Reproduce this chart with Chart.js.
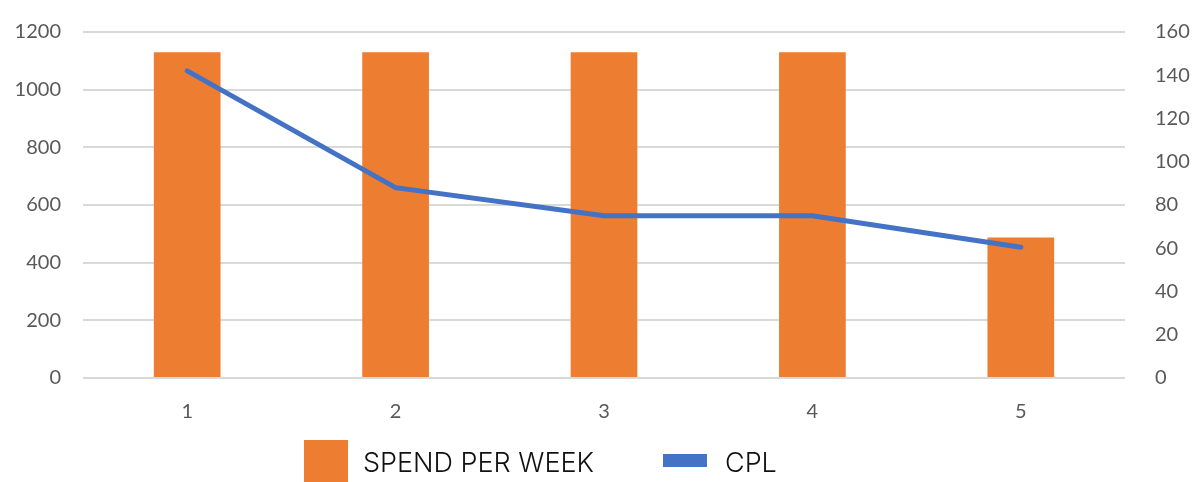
<!DOCTYPE html>
<html>
<head>
<meta charset="utf-8">
<script src="https://cdn.jsdelivr.net/npm/chart.js@4.4.1/dist/chart.umd.min.js"></script>
<style>
  html, body { margin: 0; padding: 0; background: #fff; }
  #wrap { position: relative; width: 1192px; height: 482px; overflow: hidden; }
  #chart { position: absolute; left: 0; top: -2px; }
  .lg { position: absolute; font-family: 'Inter', sans-serif; font-size: 27px; font-weight: 300; color: #111; line-height: 1; white-space: nowrap; }
  .sw { position: absolute; }
</style>
</head>
<body>
<div id="wrap">
  <canvas id="chart" width="1192" height="453"></canvas>
  <div class="sw" style="left:304px;top:440px;width:44px;height:44px;background:#ed7d31"></div>
  <div class="lg" style="left:363px;top:449px">SPEND PER WEEK</div>
  <div class="sw" style="left:663px;top:454px;width:44px;height:13px;background:#4472c4"></div>
  <div class="lg" style="left:725px;top:449px">CPL</div>
</div>
<script>
/* Spend vs CPL — combo bar + line, two y axes */
const weeks = ['1', '2', '3', '4', '5'];
const spendPerWeek = [1130, 1130, 1130, 1130, 487];
const cpl = [142, 88, 75, 75, 60.5];

const tickFont = { family: 'Lato', size: 20 };
const tickColor = '#595959';
const plain = v => String(v);

new Chart(document.getElementById('chart').getContext('2d'), {
  data: {
    labels: weeks,
    datasets: [
      {
        type: 'line',
        label: 'CPL',
        data: cpl,
        yAxisID: 'y2',
        borderColor: '#4472c4',
        borderWidth: 5,
        borderCapStyle: 'round',
        pointRadius: 0,
        tension: 0,
        order: 0,
      },
      {
        type: 'bar',
        label: 'SPEND PER WEEK',
        data: spendPerWeek,
        yAxisID: 'y',
        backgroundColor: '#ed7d31',
        barPercentage: 0.64,
        categoryPercentage: 0.5,
        order: 1,
      },
    ],
  },
  options: {
    responsive: false,
    animation: false,
    layout: { padding: { top: 16, bottom: 13, left: 0, right: 0 } },
    plugins: { legend: { display: false }, tooltip: { enabled: false } },
    scales: {
      x: {
        grid: { display: false },
        border: { display: false },
        ticks: { font: tickFont, color: tickColor, padding: 14 },
      },
      y: {
        position: 'left',
        min: 0, max: 1200,
        ticks: { stepSize: 200, font: tickFont, color: tickColor, padding: 22, callback: plain },
        grid: { color: '#d9d9d9', lineWidth: 2, drawTicks: false },
        border: { display: false },
        afterFit: s => { s.width = 83; },
      },
      y2: {
        position: 'right',
        min: 0, max: 160,
        ticks: { stepSize: 20, font: tickFont, color: tickColor, padding: 22, callback: plain },
        grid: { display: false },
        border: { display: false },
        afterFit: s => { s.width = 67; },
      },
    },
  },
});
</script>
</body>
</html>
